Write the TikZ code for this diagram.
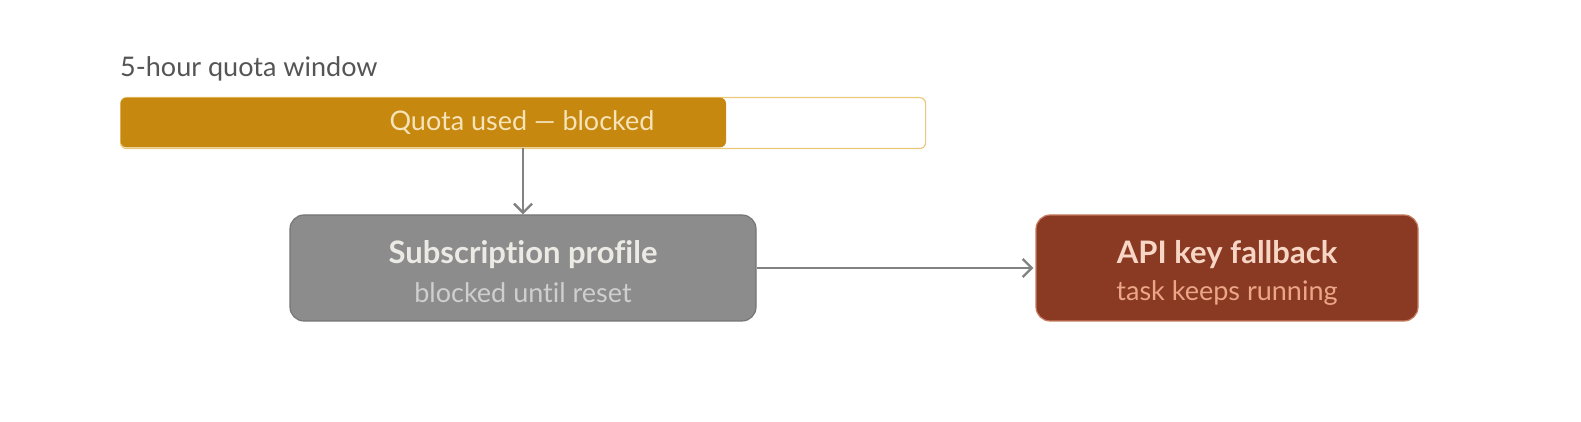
\documentclass[tikz,border=0pt]{standalone}
\usepackage{fontspec}
\setmainfont[Ligatures={NoCommon,NoRare,NoDiscretionary}]{Lato}
\usetikzlibrary{arrows.meta}
\definecolor{gold}{HTML}{C6880F}
\definecolor{goldline}{HTML}{EBC97A}
\definecolor{goldtext}{HTML}{F6E3B8}
\definecolor{graybox}{HTML}{8C8C8C}
\definecolor{grayline}{HTML}{767676}
\definecolor{graytitle}{HTML}{ECEAE4}
\definecolor{graysub}{HTML}{CFCFCF}
\definecolor{rust}{HTML}{8A3A22}
\definecolor{rustline}{HTML}{C77B5E}
\definecolor{rusttitle}{HTML}{F7D6C6}
\definecolor{rustsub}{HTML}{EBA587}
\definecolor{arrowgray}{HTML}{828282}
\definecolor{labelgray}{HTML}{555555}
\tikzset{
  box/.style={rounded corners=14pt, minimum width=466pt, minimum height=106pt, line width=1.2pt, align=center, inner sep=0pt},
  conn/.style={draw=arrowgray, line width=2.4pt, -{Straight Barb[length=9pt,width=18pt,line width=2.4pt]}},
  reg/.style={inner sep=0pt, font=\fontsize{27}{30}\selectfont},
  bld/.style={inner sep=0pt, font=\fontsize{31}{34}\selectfont\bfseries},
}
\begin{document}
\begin{tikzpicture}[x=1pt,y=1pt]
\useasboundingbox[fill=white] (0,0) rectangle (1581,422);
% title
\node[anchor=base west, inner sep=0pt, text=labelgray, font=\fontsize{27}{30}\selectfont] (ttl) at (120,345) {5-hour quota window};
% bar
\node[draw=goldline, line width=1.2pt, rounded corners=6pt, minimum width=805pt, minimum height=51pt, inner sep=0pt, anchor=north west] (bar) at (120,325) {};
\fill[gold, rounded corners=6pt] (120.6,324.4) rectangle (726,274.6);
\node[reg, text=goldtext] (qtext) at (522,299) {Quota used — blocked};
\coordinate (qbot) at (523,274);
% boxes
\node[box, fill=graybox, draw=grayline] (sub) at (523,154) {};
\node[bld, text=graytitle] (subt) at (523,167) {Subscription profile};
\node[reg, text=graysub] (subs) at (523,129) {blocked until reset};
\node[box, fill=rust, draw=rustline, minimum width=382pt] (api) at (1227,154) {};
\node[bld, text=rusttitle] (apit) at (1227,167) {API key fallback};
\node[reg, text=rustsub] (apis) at (1227,129) {task keeps running};
% connectors
\draw[conn] (qbot) -- (qbot |- sub.north);
\draw[conn] (sub.east |- 0,154) -- ([xshift=-2pt]api.west);
\end{tikzpicture}
\end{document}
